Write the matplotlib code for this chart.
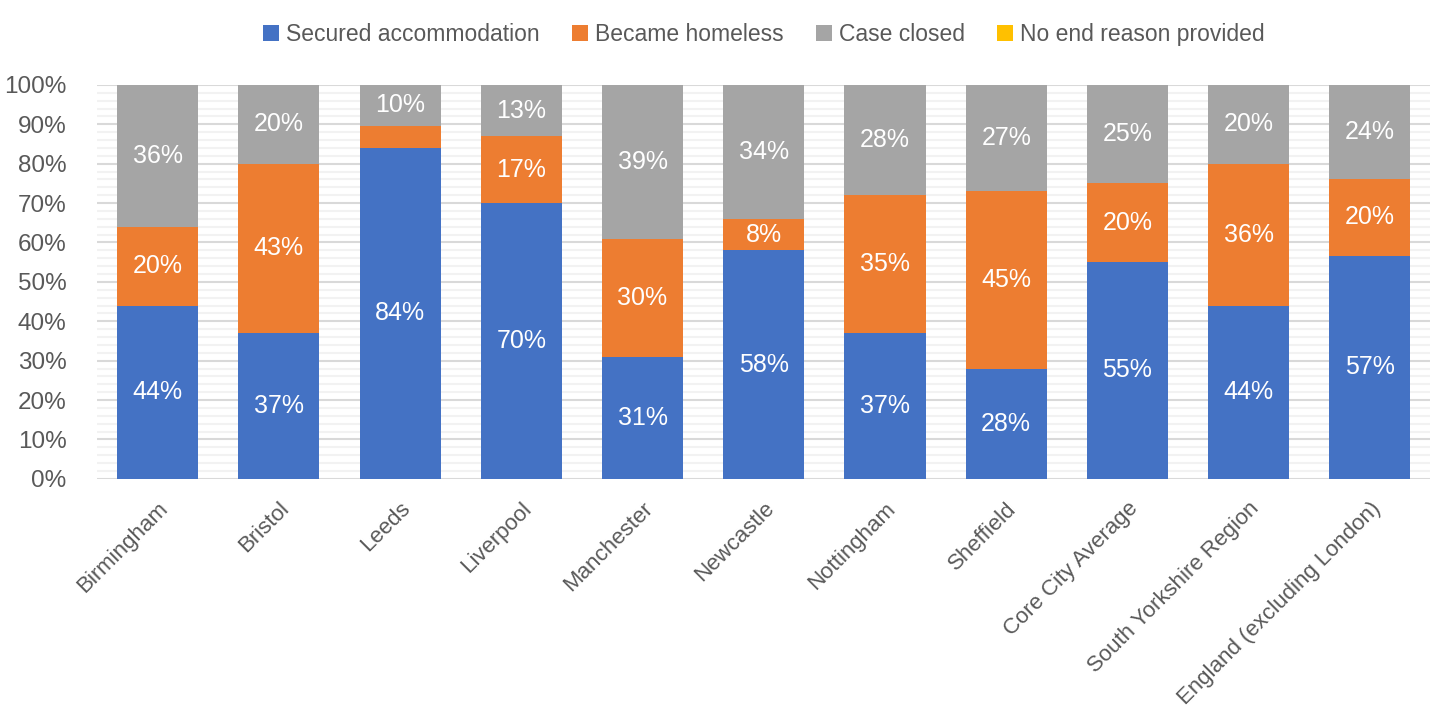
import numpy as np
import matplotlib.pyplot as plt
from matplotlib.ticker import MultipleLocator, PercentFormatter

plt.rcParams['font.family'] = ['Liberation Sans', 'DejaVu Sans']

areas = ['Birmingham', 'Bristol', 'Leeds', 'Liverpool', 'Manchester', 'Newcastle',
         'Nottingham', 'Sheffield', 'Core City Average', 'South Yorkshire Region',
         'England (excluding London)']
secured = [44, 37, 84, 70, 31, 58, 37, 28, 55, 44, 56.6]
homeless = [20, 43, 5.6, 17, 30, 8, 35, 45, 20, 36, 19.6]
closed = [36, 20, 10.4, 13, 39, 34, 28, 27, 25, 20, 23.8]
no_reason = [0, 0, 0, 0, 0, 0, 0, 0, 0, 0, 0]

series = [
    ('Secured accommodation', secured, '#4472C4'),
    ('Became homeless', homeless, '#ED7D31'),
    ('Case closed', closed, '#A5A5A5'),
    ('No end reason provided', no_reason, '#FFC000'),
]

fig = plt.figure(figsize=(14.4, 7.2), dpi=100)
ax = fig.add_axes([0.0674, 0.335, 0.926, 0.547])

x = np.arange(len(areas))
bottom = np.zeros(len(areas))
for name, vals, col in series:
    vals = np.array(vals, dtype=float)
    ax.bar(x, vals, 0.67, bottom=bottom, color=col, label=name, zorder=3)
    # segments too thin for a label stay unlabelled
    for xi, b, v in zip(x, bottom, vals):
        if v >= 7:
            ax.text(xi, b + v / 2, f'{v:.0f}%', ha='center', va='center',
                    color='white', fontsize=18, zorder=4)
    bottom += vals

ax.set_xlim(-0.5, len(areas) - 0.5)
ax.set_ylim(0, 100)
ax.yaxis.set_major_locator(MultipleLocator(10))
ax.yaxis.set_minor_locator(MultipleLocator(2))
ax.yaxis.set_major_formatter(PercentFormatter(decimals=0))
ax.grid(axis='y', which='major', color='#D9D9D9', lw=1.5, zorder=1)
ax.grid(axis='y', which='minor', color='#F2F2F2', lw=1.5, zorder=0)
for s in ax.spines.values():
    s.set_visible(False)
ax.tick_params(axis='both', which='both', length=0)
ax.tick_params(axis='y', labelsize=17.5, labelcolor='#595959', pad=22)
ax.set_xticks(x)
ax.set_xticklabels(areas, rotation=45, ha='right', rotation_mode='anchor',
                   fontsize=16, color='#595959')
ax.tick_params(axis='x', pad=14)

ax.legend(loc='upper center', bbox_to_anchor=(0.5, 1.21), ncol=4, frameon=False,
          fontsize=16.5, labelcolor='#595959', handlelength=0.7, handleheight=0.7,
          handletextpad=0.3, columnspacing=1.4)

fig.savefig('out.png', dpi=100)
